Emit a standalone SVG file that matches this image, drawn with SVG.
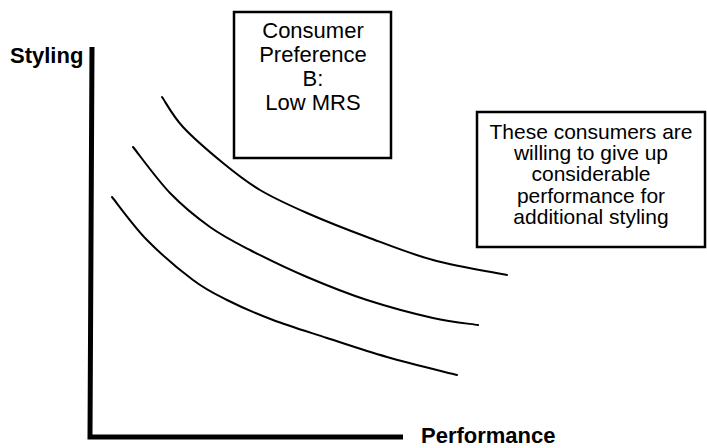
<svg xmlns="http://www.w3.org/2000/svg" width="707" height="448" viewBox="0 0 707 448">
<style>
.box{fill:#fff;stroke:#000;stroke-width:2.5}
.curve{fill:none;stroke:#000;stroke-width:2;stroke-linecap:round;stroke-linejoin:round}
.axis{fill:none;stroke:#000;stroke-width:5}
.lbl{font-family:"Liberation Sans",Arial,sans-serif;font-weight:bold;font-size:22px;fill:#000}
.t1{font-family:"Liberation Sans",Arial,sans-serif;font-size:22px;fill:#000;text-anchor:middle}
.t2{font-family:"Liberation Sans",Arial,sans-serif;font-size:21px;fill:#000;text-anchor:middle}
</style>
<rect width="707" height="448" fill="#fff"/>
<g id="axes">
<path class="axis" d="M92,47 L90,437 L403,437"/>
<text class="lbl" x="10" y="63">Styling</text>
<text class="lbl" x="421" y="443">Performance</text>
</g>
<g id="connectors">
<path class="curve" d="M162,97 C165.5,102 172.8,116 183,127 C193.2,138 210.2,152.5 223,163 C235.8,173.5 246,181.7 260,190 C274,198.3 289.2,205.2 307,213 C324.8,220.8 346,229.2 367,237 C388,244.8 409.7,253.7 433,260 C456.3,266.3 494.7,272.5 507,275"/>
<path class="curve" d="M133,147 C139.2,154.7 157.2,179.7 170,193 C182.8,206.3 196.7,217.5 210,227 C223.3,236.5 233.8,241.7 250,250 C266.2,258.3 287.5,268.7 307,277 C326.5,285.3 346,293.2 367,300 C388,306.8 414.5,313.8 433,318 C451.5,322.2 470.5,323.8 478,325"/>
<path class="curve" d="M112,197 C117.8,204.2 133.5,226.2 147,240 C160.5,253.8 179.7,270 193,280 C206.3,290 213.7,293.3 227,300 C240.3,306.7 256.3,313.7 273,320 C289.7,326.3 308,331.8 327,338 C346,344.2 365.3,350.8 387,357 C408.7,363.2 445.3,372 457,375"/>
</g>
<g id="nodeA">
<rect class="box" x="234" y="12" width="157" height="146"/>
<text class="t1" x="313" y="38">Consumer</text>
<text class="t1" x="313" y="62">Preference</text>
<text class="t1" x="313" y="86">B:</text>
<text class="t1" x="313" y="110">Low MRS</text>
</g>
<g id="nodeB">
<rect class="box" x="477" y="112" width="228" height="135"/>
<text class="t2" x="591" y="139">These consumers are</text>
<text class="t2" x="591" y="160">willing to give up</text>
<text class="t2" x="591" y="181">considerable</text>
<text class="t2" x="591" y="203">performance for</text>
<text class="t2" x="591" y="224">additional styling</text>
</g>
</svg>
